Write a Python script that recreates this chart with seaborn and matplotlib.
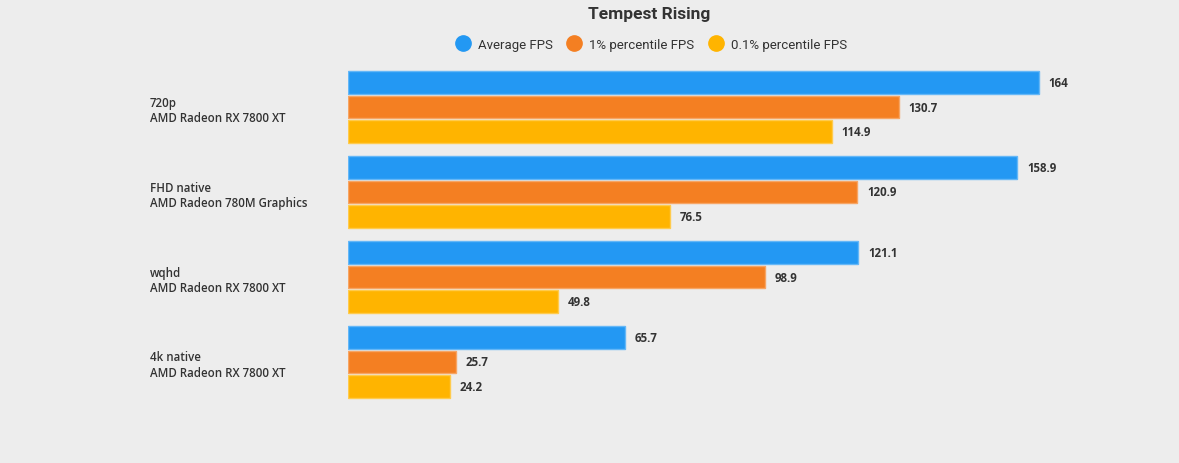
import numpy as np
import pandas as pd
import matplotlib.pyplot as plt
import seaborn as sns
from matplotlib.lines import Line2D
from matplotlib.colors import to_rgb

configs = ["720p\nAMD Radeon RX 7800 XT",
           "FHD native\nAMD Radeon 780M Graphics",
           "wqhd\nAMD Radeon RX 7800 XT",
           "4k native\nAMD Radeon RX 7800 XT"]
series = ["Average FPS", "1% percentile FPS", "0.1% percentile FPS"]
avg_fps = [164, 158.9, 121.1, 65.7]
p1_fps = [130.7, 120.9, 98.9, 25.7]
p01_fps = [114.9, 76.5, 49.8, 24.2]
colors = ["#2398F3", "#F47F22", "#FFB400"]

rows = []
for name, vals in zip(series, [avg_fps, p1_fps, p01_fps]):
    for c, v in zip(configs, vals):
        rows.append({"config": c, "series": name, "fps": v})
df = pd.DataFrame(rows)

bg = "#EDEDED"
sns.set_theme(style="white", rc={"figure.facecolor": bg, "axes.facecolor": bg})
plt.rcParams['font.family'] = ['Open Sans', 'DejaVu Sans']

fig = plt.figure(figsize=(11.79, 4.64), dpi=100)
ax = fig.add_axes([348 / 1179, 58.5 / 464, 802 / 1179, 340 / 464])
sns.barplot(data=df, y="config", x="fps", hue="series", palette=colors, saturation=1,
            orient="h", width=0.88, gap=0.08, legend=False, ax=ax)

for cont, col in zip(ax.containers, colors):
    light = tuple(min(1, c + 0.3 * (1 - c)) for c in to_rgb(col))
    for p in cont:
        p.set_edgecolor(light)
        p.set_linewidth(1)
    ax.bar_label(cont, padding=7, fontsize=8.3, fontweight='bold', color='#333333',
                 fmt=lambda v: f"{v:g}")

ax.set_xlim(0, 802 / 4.213)
ax.set_ylim(3.5, -0.5)
ax.set_xlabel("")
ax.set_ylabel("")
ax.set_xticks([])
sns.despine(ax=ax, left=True, bottom=True)
ax.tick_params(axis='y', length=0, pad=142.5)
for lab in ax.get_yticklabels():
    lab.set_horizontalalignment('left')
    lab.set_fontsize(8.3)
    lab.set_fontweight('semibold')
    lab.set_color('#333333')
    lab.set_linespacing(1.22)

fig.text(0.551, 0.968, "Tempest Rising", ha='center', va='center', fontsize=12.5,
         fontweight='bold', color='#333333', family=['Roboto', 'DejaVu Sans'])
handles = [Line2D([], [], marker='o', linestyle='', markersize=11, color=c) for c in colors]
fig.legend(handles, series, loc='center', bbox_to_anchor=(0.55, 0.903), ncol=3, frameon=False,
           handletextpad=0.15, columnspacing=0.6, prop={'family': 'Roboto', 'size': 9.5},
           labelcolor='#333333')

fig.savefig("out.png", dpi=100, facecolor=bg)
